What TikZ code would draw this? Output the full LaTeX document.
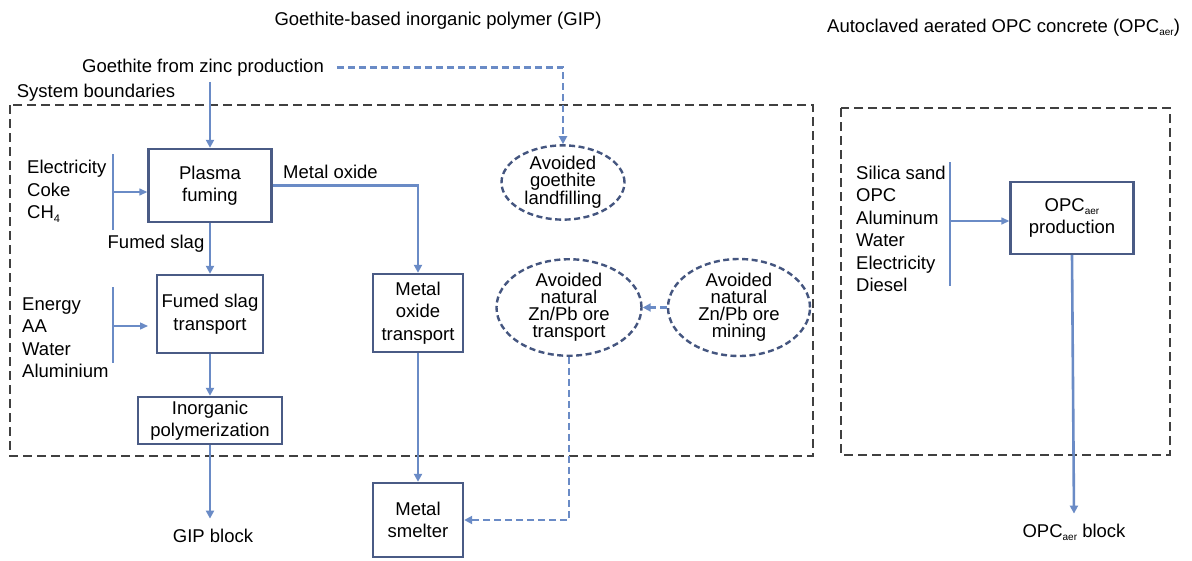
\documentclass[tikz,border=0pt]{standalone}
\usepackage{fontspec}
\setmainfont{Liberation Sans}
\usetikzlibrary{arrows.meta,shapes.geometric}
\definecolor{flowblue}{HTML}{6A8BC6}
\definecolor{boxnavy}{HTML}{4A5B85}
\definecolor{ellnavy}{HTML}{44557F}
\definecolor{bound}{HTML}{404040}
\newcommand\fs{\fontsize{18.5}{22.5}\selectfont}
\newcommand\fse{\fontsize{18.5}{17}\selectfont}
\newcommand\aer{\raisebox{-3.5pt}{\fontsize{10}{10}\selectfont aer}}
\tikzset{
  proc/.style={draw=boxnavy, line width=2.4pt, align=center, inner sep=0pt, fill=white},
  avoid/.style={ellipse, draw=ellnavy, line width=2.4pt, dash pattern=on 6pt off 3.5pt, align=center, inner sep=0pt, font=\fse},
  flow/.style={draw=flowblue, line width=2.6pt, -{Triangle[width=8pt,length=8pt]}},
  dflow/.style={flow, dash pattern=on 7pt off 4pt},
  inflow/.style={draw=flowblue, line width=1.4pt, -{Triangle[width=7pt,length=8pt]}},
  bracketline/.style={draw=flowblue, line width=1.4pt},
  boundary/.style={draw=bound, line width=1.4pt, dash pattern=on 9pt off 5pt},
  lbl/.style={inner sep=0pt, align=left},
}
\begin{document}
\begin{tikzpicture}[x=1pt,y=-1pt,font=\fs]
\useasboundingbox[fill=white] (0,0) rectangle (1192,560);

% titles
\node[lbl, anchor=base] (title1) at (438,25) {Goethite-based inorganic polymer (GIP)};
\node[lbl, anchor=base west] (title2) at (827,32) {Autoclaved aerated OPC concrete (OPC\aer)};

% system boundaries
\draw[boundary] (10,105) rectangle (813,456);
\draw[boundary] (841,108) rectangle (1170,455);
\node[lbl, anchor=base] (sysb) at (96,97) {System boundaries};

% top input
\node[lbl, anchor=base, outer xsep=13pt, outer ysep=6pt] (goeth) at (203,72) {Goethite from zinc production};

% process boxes
\node[proc, minimum width=123pt, minimum height=73pt] (plasma) at (210,185.5) {Plasma\\fuming};
\node[proc, minimum width=106pt, minimum height=78pt] (fst) at (210,314) {Fumed slag\\transport};
\node[proc, minimum width=144pt, minimum height=47pt] (poly) at (210,420.5) {Inorganic\\polymerization};
\node[proc, minimum width=90pt, minimum height=78pt] (mot) at (418,313) {Metal\\oxide\\transport};
\node[proc, minimum width=90pt, minimum height=74pt] (smelter) at (418,520) {Metal\\smelter};
\node[proc, minimum width=123pt, minimum height=72pt] (opc) at (1072,218) {OPC\aer\\production};

% avoided processes
\node[avoid, minimum width=123pt, minimum height=71pt] (landfill) at (563,182.5) {Avoided\\goethite\\landfilling};
\node[avoid, minimum width=145pt, minimum height=89pt] (ztrans) at (569,307.5) {Avoided\\natural\\Zn/Pb ore\\transport};
\node[avoid, minimum width=142pt, minimum height=97pt] (mining) at (739,307.5) {Avoided\\natural\\Zn/Pb ore\\mining};

% labels
\node[lbl] (fslabel) at (156,244) {Fumed slag};
\node[lbl] (molabel) at (330.5,172) {Metal oxide};
\node[lbl, anchor=base, outer ysep=10pt] (gip) at (213,542) {GIP block};
\node[lbl, anchor=base, outer ysep=10pt] (opcblk) at (1074,537) {OPC\aer\ block};

% input lists
\node[lbl, anchor=west] (in1) at (27,191.5) {Electricity\\Coke\\CH\raisebox{-4pt}{\fontsize{11}{11}\selectfont 4}};
\node[lbl, anchor=west] (in2) at (22,337.5) {Energy\\AA\\Water\\Aluminium};
\node[lbl, anchor=west] (in3) at (856,229) {Silica sand\\OPC\\Aluminum\\Water\\Electricity\\Diesel};

% brackets
\draw[bracketline] (113,154) -- (113,230);
\coordinate (b1) at (113,192);
\draw[inflow] (b1) -- (plasma.west |- b1);
\draw[bracketline] (113,287) -- (113,363);
\coordinate (b2) at (113,326);
\draw[inflow] (b2) -- (148,326);
\draw[bracketline] (950,162) -- (950,286);
\coordinate (b3) at (950,221);
\draw[inflow] (b3) -- (opc.west |- b3);

% main flows
\draw[flow] (plasma.north |- goeth.south) -- (plasma.north);
\draw[flow] (plasma.south) -- (fst.north);
\draw[flow] (fst.south) -- (poly.north);
\draw[flow] (poly.south) -- (poly.south |- gip.north);
\draw[flow] (plasma.east) -| (mot.north);
\draw[flow] (mot.south) -- (smelter.north);
\draw[flow] (opc.south) -- (opcblk.north);

% avoided flows
\draw[dflow] (goeth.east) -| (landfill.north);
\draw[dflow] (mining.west) -- (ztrans.east);
\draw[dflow] (ztrans.south) |- (smelter.east);
\end{tikzpicture}
\end{document}
